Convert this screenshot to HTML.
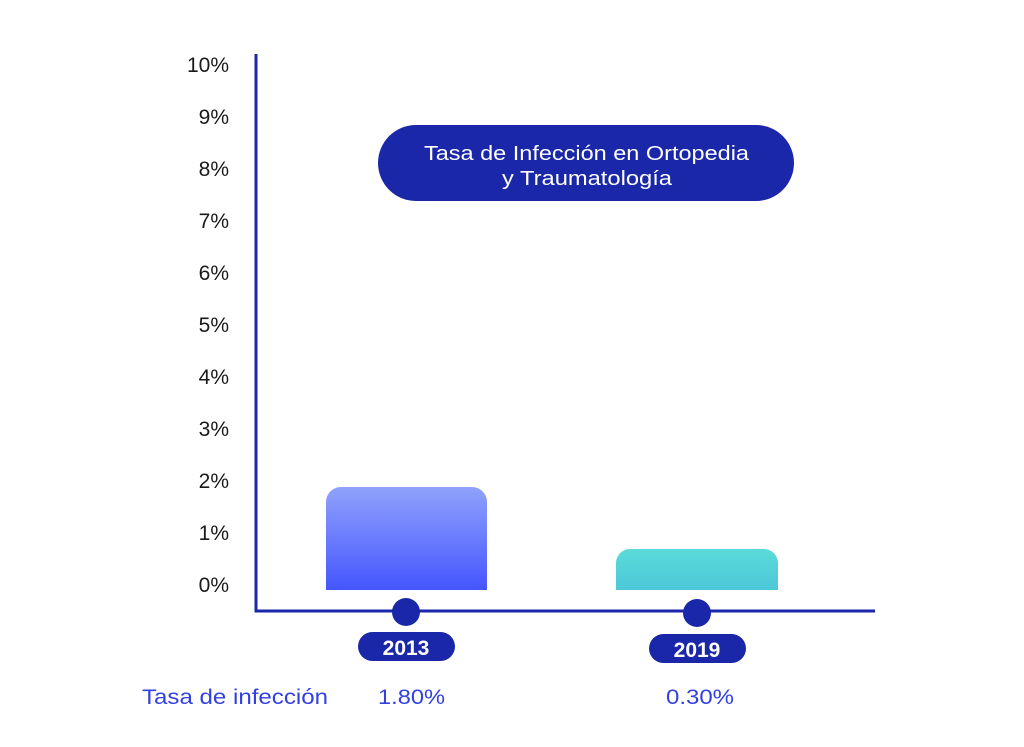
<!DOCTYPE html>
<html><head><meta charset="utf-8"><style>
body{margin:0;background:#fff;}
</style></head><body>
<svg width="1024" height="742" viewBox="0 0 1024 742" xmlns="http://www.w3.org/2000/svg" font-family="Liberation Sans, sans-serif">
<defs>
<linearGradient id="g1" x1="0" y1="0" x2="0" y2="1"><stop offset="0" stop-color="#90a2fc"/><stop offset="1" stop-color="#4556fe"/></linearGradient>
<linearGradient id="g2" x1="0" y1="0" x2="0" y2="1"><stop offset="0" stop-color="#5adbd8"/><stop offset="1" stop-color="#4cc7d9"/></linearGradient>
</defs>
<g font-size="21" fill="#1a1a1a" text-anchor="end">
<text x="229" y="72">10%</text>
<text x="229" y="124">9%</text>
<text x="229" y="176">8%</text>
<text x="229" y="228">7%</text>
<text x="229" y="280">6%</text>
<text x="229" y="332">5%</text>
<text x="229" y="384">4%</text>
<text x="229" y="436">3%</text>
<text x="229" y="488">2%</text>
<text x="229" y="540">1%</text>
<text x="229" y="592">0%</text>
</g>
<rect x="378" y="125" width="416" height="76" rx="38" fill="#1a27a8"/>
<text x="424" y="160" font-size="20" fill="#fff" textLength="325" lengthAdjust="spacingAndGlyphs">Tasa de Infección en Ortopedia</text>
<text x="502" y="185" font-size="20" fill="#fff" textLength="170" lengthAdjust="spacingAndGlyphs">y Traumatología</text>
<path d="M326 590V502a15 15 0 0 1 15-15H472a15 15 0 0 1 15 15V590Z" fill="url(#g1)"/>
<path d="M616 590V563a14 14 0 0 1 14-14H764a14 14 0 0 1 14 14V590Z" fill="url(#g2)"/>
<path d="M256 54V611H875" fill="none" stroke="#1a27a8" stroke-width="3"/>
<circle cx="406" cy="612" r="14" fill="#1a27a8"/>
<circle cx="697" cy="613" r="14" fill="#1a27a8"/>
<rect x="358" y="632" width="97" height="29" rx="14.5" fill="#1a27a8"/>
<rect x="649" y="634" width="97" height="29" rx="14.5" fill="#1a27a8"/>
<text x="406" y="655" font-size="21" font-weight="bold" fill="#fff" text-anchor="middle">2013</text>
<text x="697" y="657" font-size="21" font-weight="bold" fill="#fff" text-anchor="middle">2019</text>
<g font-size="21" fill="#3340e0">
<text x="142" y="704" textLength="186" lengthAdjust="spacingAndGlyphs">Tasa de infección</text>
<text x="378" y="704" textLength="67" lengthAdjust="spacingAndGlyphs">1.80%</text>
<text x="666" y="704" textLength="68" lengthAdjust="spacingAndGlyphs">0.30%</text>
</g>
</svg>
</body></html>
